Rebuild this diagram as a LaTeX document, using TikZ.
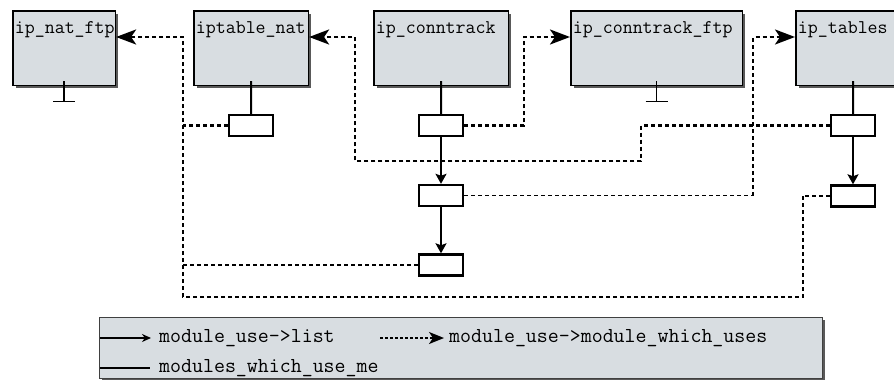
\documentclass[tikz,border=0pt]{standalone}
\usepackage{fontspec}
\usetikzlibrary{arrows.meta,positioning,shadows}
\definecolor{modgray}{RGB}{216,221,225}

\begin{document}
\begin{tikzpicture}[x=1pt, y=-1pt, >=Stealth, font=\ttfamily,
modbox/.style={draw, fill=modgray, line width=1.6pt, anchor=north west, align=left,
  text width=#1, inner xsep=2pt, inner ysep=3pt, text height=20pt, text depth=48.5pt,
  font=\ttfamily\fontsize{19.4}{22}\selectfont,
  drop shadow={shadow xshift=3pt, shadow yshift=-3pt, fill=black!65, opacity=1}},
listbox/.style={draw, fill=white, line width=2.4pt, minimum width=44pt, minimum height=21pt, inner sep=0pt},
uses/.style={line width=2.4pt, dash pattern=on 4pt off 3pt},
usesthin/.style={line width=1.2pt, dash pattern=on 4pt off 3pt},
usesarr/.style={uses, -{Stealth[length=20pt, width=15pt, inset=5pt]}},
listarr/.style={line width=2pt, -{Stealth[length=10pt, width=11pt, inset=2pt]}},
ground/.style={line width=1.2pt},
legbox/.style={draw=black!75, fill=modgray, line width=1pt, anchor=north west, inner sep=0pt,
  minimum width=723pt, minimum height=61pt,
  drop shadow={shadow xshift=2.5pt, shadow yshift=-2.5pt, fill=black!65, opacity=1}},
legtext/.style={anchor=west, inner sep=0pt, font=\ttfamily\fontsize{21.3}{24}\selectfont}]
  \useasboundingbox (0,0) rectangle (894,380);
  \clip (0,0) rectangle (894,380);

  % modules
  \node[modbox=98.5pt] (natftp) at (12,10) {ip\_nat\_ftp};
  \node[modbox=110.5pt] (iptnat) at (193,10) {iptable\_nat};
  \node[modbox=130.5pt] (ct) at (373,10) {ip\_conntrack};
  \node[modbox=167.5pt] (ctftp) at (570,10) {ip\_conntrack\_ftp};
  \node[modbox=110.5pt] (tables) at (795,10) {ip\_tables};

  % module_use entries
  \node[listbox] (ntbox) at (251,125.5) {};
  \node[listbox] (ctbox1) at (441,125.5) {};
  \node[listbox] (ctbox2) at (441,195.5) {};
  \node[listbox] (ctbox3) at (441,265) {};
  \node[listbox] (tbbox1) at (853,125.5) {};
  \node[listbox] (tbbox2) at (853,196) {};

  % modules_which_use_me
  \draw[line width=2pt] ([yshift=5pt]iptnat.south) -- (ntbox.north);
  \draw[line width=2pt] ([yshift=5pt]ct.south) -- (ctbox1.north);
  \draw[line width=2pt] ([yshift=5pt]tables.south) -- (tbbox1.north);
  \draw[ground] ([yshift=5pt]natftp.south) -- ++(0,20) ++(-11,0) -- ++(22,0);
  \draw[ground] ([yshift=5pt]ctftp.south) -- ++(0,20) ++(-11,0) -- ++(22,0);

  % module_use->list
  \path[listarr]
    (ctbox1) edge (ctbox2)
    (ctbox2) edge (ctbox3)
    (tbbox1) edge (tbbox2);

  % module_use->module_which_uses
  \coordinate (xa) at (183,37);
  \coordinate (xb) at (355,37);
  \coordinate (xc) at (524,37);
  \coordinate (xd) at (641,161);
  \coordinate (xe) at (753,37);
  \coordinate (lowl) at (183,297);
  \coordinate (lowr) at (803,297);
  \draw[uses] (ntbox.west) -- (xa |- ntbox.west);
  \draw[uses] (ctbox3.west) -- (xa |- ctbox3.west);
  \draw[usesthin] (tbbox2.west) -- (lowr |- tbbox2.west);
  \draw[usesarr] (lowr |- tbbox2.west) -- (lowr) -- (lowl) -- (xa) -- (xa -| natftp.east);
  \draw[usesarr] (ctbox1.east) -| (xc) -- (xc -| ctftp.west);
  \draw[usesthin] (ctbox2.east) -- (xe |- ctbox2.east);
  \draw[usesarr] (xe |- ctbox2.east) -- (xe) -- (xe -| tables.west);
  \draw[usesarr] (tbbox1.west) -| (xd) -| (xb) -- (xb -| iptnat.east);

  % legend
  \node[legbox] (legend) at (99,317) {};
  \node[legtext] (leglist) at (159,338) {module\_use->list};
  \node[legtext] (leguses) at (449,338) {module\_use->module\_which\_uses};
  \node[legtext] (legme) at (159,368) {modules\_which\_use\_me};
  \draw[line width=1.8pt, -{Stealth[length=9pt, width=8pt]}]
    ([xshift=-59pt]leglist.west) -- ([xshift=-8pt]leglist.west);
  \draw[line width=1.8pt, dash pattern=on 3pt off 2pt, -{Stealth[length=15pt, width=12pt, inset=4pt]}]
    ([xshift=-69pt]leguses.west) -- ([xshift=-5pt]leguses.west);
  \draw[line width=1.8pt] ([xshift=-59pt]legme.west) -- ([xshift=-9pt]legme.west);
\end{tikzpicture}
\end{document}
